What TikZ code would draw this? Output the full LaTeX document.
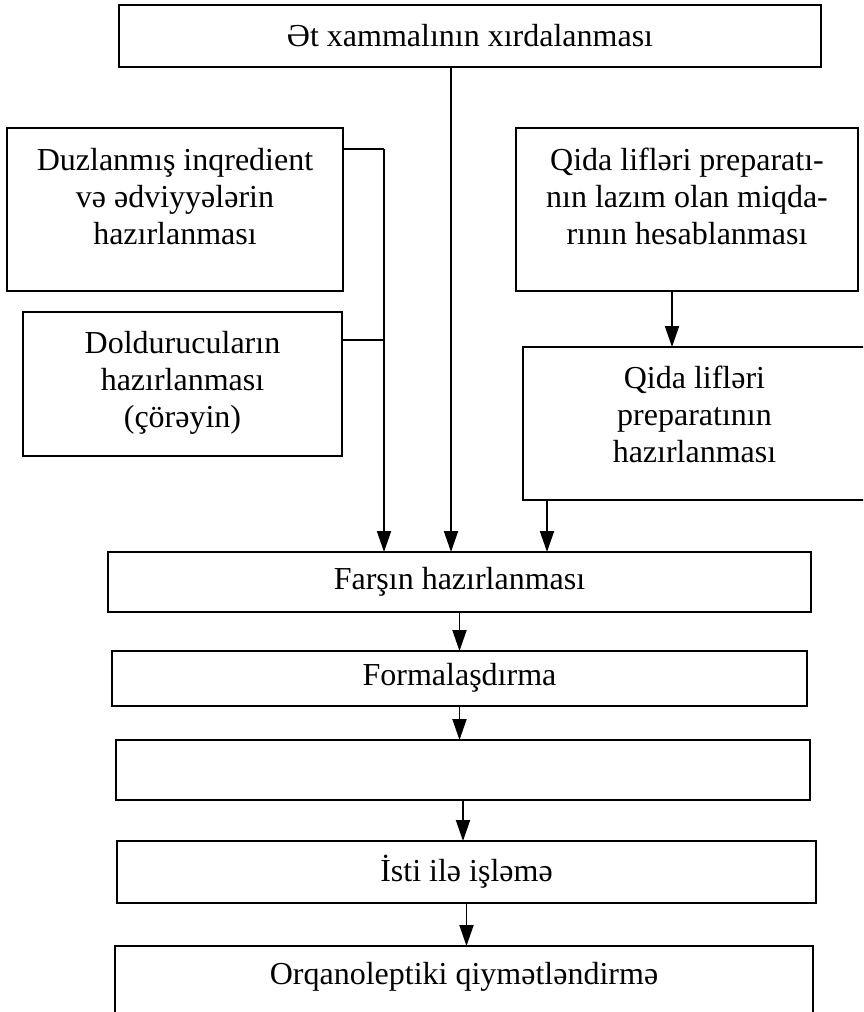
\documentclass[tikz,border=0pt]{standalone}
\usepackage{fontspec}
\setmainfont{Liberation Serif}
\usetikzlibrary{arrows.meta}
\usetikzlibrary{calc}

\newcommand{\boxfont}{\fontsize{32}{37}\selectfont}
% box text set from the top: height, width, gap above, text
\newcommand{\toptext}[4]{\parbox[c][#1][t]{#2}{\centering\vspace*{#3}#4}}

\tikzset{
	procbox/.style={draw, line width=1.9pt, inner sep=0pt, outer sep=0pt, anchor=north west, font=\boxfont},
	arr/.style={line width=1.9pt, -{Triangle[length=21pt,width=14pt]}},
	link/.style={line width=1.9pt}
}

\begin{document}
\begin{tikzpicture}[x=1pt, y=-1pt]

	\useasboundingbox (0,0) rectangle (863,1012);
	\clip (0,0) rectangle (863,1012);

	\node[procbox, minimum width=702pt, minimum height=62pt] (raw) at (119,5) {Ət xammalının xırdalanması};

	\node[procbox] (salt) at (7,128) {\toptext{163pt}{336pt}{20pt}{Duzlanmış inqredient\\və ədviyyələrin\\hazırlanması}};
	\node[procbox] (fill) at (23,312) {\toptext{144pt}{319pt}{19pt}{Doldurucuların\\hazırlanması\\(çörəyin)}};
	\node[procbox] (calc) at (516,128) {\toptext{163pt}{342pt}{20pt}{Qida lifləri preparatı-\\nın lazım olan miqda-\\rının hesablanması}};
	\node[procbox] (fibre) at (523,347) {\toptext{153pt}{343pt}{19pt}{Qida lifləri\\preparatının\\hazırlanması}};

	\node[procbox, minimum width=703pt, minimum height=60pt] (mince) at (108,552) {Farşın hazırlanması};
	\node[procbox, minimum width=695pt, minimum height=55pt] (shape) at (112,651) {\raisebox{8pt}{Formalaşdırma}};
	\node[procbox, minimum width=694pt, minimum height=60pt] (blank) at (116,740) {};
	\node[procbox, minimum width=699pt, minimum height=62pt] (heat) at (117,841) {İsti ilə işləmə};
	\node[procbox] (taste) at (115,946) {\toptext{90pt}{698pt}{16pt}{Orqanoleptiki qiymətləndirmə}};

	\coordinate (stem) at (451,0);
	\coordinate (brkA) at (384,149);
	\coordinate (brkB) at (384,340);
	\coordinate (rarr) at (672,0);
	\coordinate (rdown) at (547,0);

	\draw[arr] (raw.south -| stem) -- (mince.north -| stem);
	\draw[link] (salt.east |- brkA) -- (brkA);
	\draw[link] (fill.east |- brkB) -- (brkB);
	\draw[arr] (brkA) -- (mince.north -| brkA);
	\draw[arr] (calc.south -| rarr) -- (fibre.north -| rarr);
	\draw[arr] (fibre.south -| rdown) -- (mince.north -| rdown);

	\foreach \a/\b in {mince/shape, shape/blank, blank/heat, heat/taste}{
		\draw[arr] (\a.south) -- (\a.south |- \b.north);
	}

\end{tikzpicture}
\end{document}
